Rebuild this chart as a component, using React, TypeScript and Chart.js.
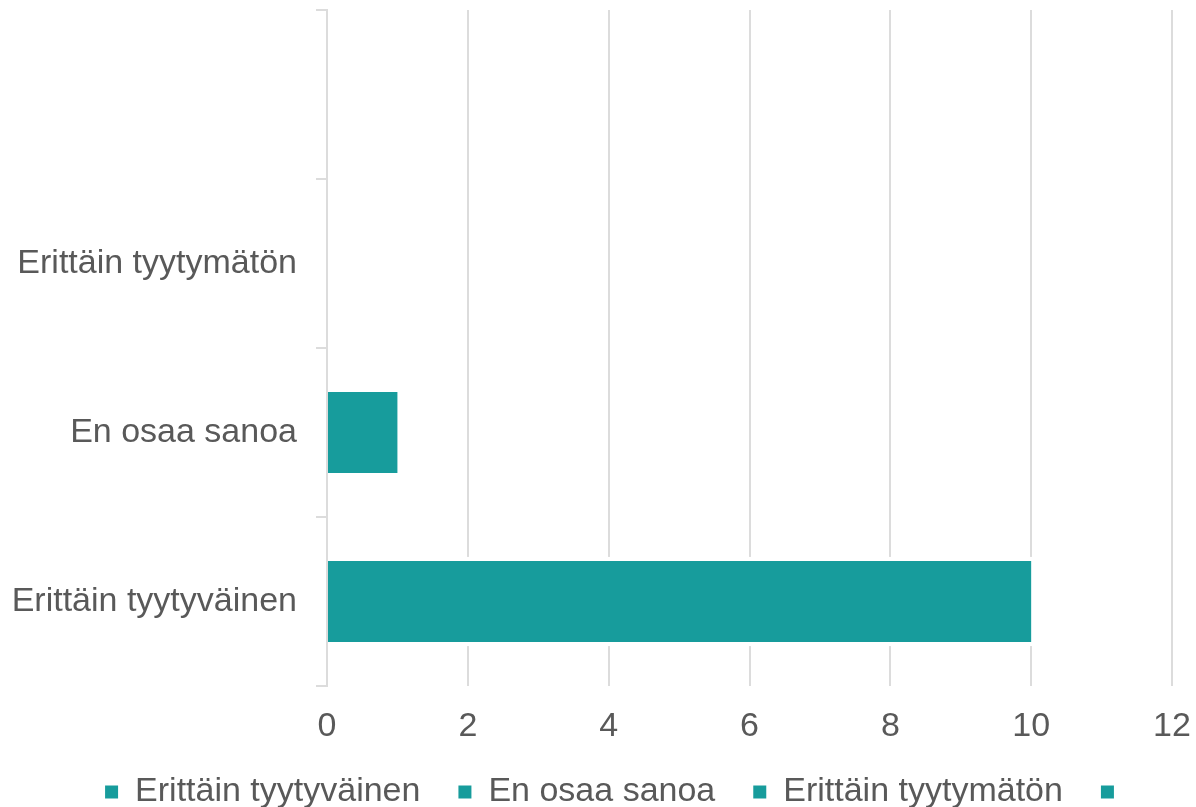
import React, { useEffect, useRef } from "react";
import { Chart, registerables } from "chart.js";

Chart.register(...registerables);

const categories: string[] = ["Erittäin tyytyväinen", "En osaa sanoa", "Erittäin tyytymätön", ""];
const values: number[] = [10, 1, 0, 0];
const xTicks: number[] = [0, 2, 4, 6, 8, 10, 12];

const BAR = "#179c9c";
const TEXT = "#595959";
const GRID = "#dcdcdc";
const FONT = "'Liberation Sans', Arial, Helvetica, sans-serif";
const FS = 34;

const fixups = {
  id: "fixups",
  afterLayout(chart: any) {
    // keep tick labels from being clipped by the axis boxes
    if (chart.scales.x) chart.scales.x.bottom = chart.height;
    if (chart.scales.y) chart.scales.y.left = 0;
  },
  beforeDatasetsDraw(chart: any) {
    const ctx = chart.ctx;
    const meta = chart.getDatasetMeta(0);
    ctx.save();
    ctx.fillStyle = "#ffffff";
    meta.data.forEach((el: any, i: number) => {
      if (!values[i]) return;
      const p = el.getProps(["x", "y", "base", "height"], true);
      const left = Math.min(p.x, p.base) + 2;
      const right = Math.max(p.x, p.base) + 4;
      ctx.fillRect(left, p.y - p.height / 2 - 4, right - left, p.height + 8);
    });
    ctx.restore();
  },
};

export default function App() {
  const ref = useRef<HTMLCanvasElement | null>(null);
  useEffect(() => {
    if (!ref.current) return;
    const chart = new Chart(ref.current, {
      type: "bar",
      data: {
        labels: categories,
        datasets: [
          {
            data: values,
            backgroundColor: BAR,
            borderWidth: 0,
            categoryPercentage: 1,
            barPercentage: 0.48,
          },
        ],
      },
      plugins: [fixups],
      options: {
        indexAxis: "y",
        animation: false,
        responsive: true,
        maintainAspectRatio: false,
        layout: { padding: { top: 10, right: 24, left: 64, bottom: 0 } },
        plugins: {
          tooltip: { enabled: false },
          legend: {
            position: "bottom",
            labels: {
              font: { family: FONT, size: FS },
              color: TEXT,
              boxWidth: 13,
              boxHeight: 13,
              padding: 38,
              generateLabels: () =>
                categories.map((c, i) => ({
                  text: c,
                  fillStyle: BAR,
                  strokeStyle: BAR,
                  lineWidth: 0,
                  hidden: false,
                  index: i,
                  datasetIndex: 0,
                  fontColor: TEXT,
                })),
            },
            onClick: () => {},
          },
        },
        scales: {
          x: {
            min: 0,
            max: 12,
            afterBuildTicks: (scale: any) => {
              scale.ticks = xTicks.map((v) => ({ value: v }));
            },
            afterFit: (scale: any) => {
              scale.height = 51;
              scale.paddingLeft = 0;
              scale.paddingRight = 0;
            },
            ticks: {
              font: { family: FONT, size: FS },
              color: TEXT,
              padding: 20,
              maxRotation: 0,
            },
            grid: {
              color: GRID,
              lineWidth: 2,
              drawTicks: false,
            },
            border: { display: false },
          },
          y: {
            reverse: true,
            offset: true,
            afterFit: (scale: any) => {
              scale.width = 263;
              scale.paddingTop = 0;
              scale.paddingBottom = 0;
            },
            ticks: {
              font: { family: FONT, size: FS },
              color: TEXT,
              padding: 19,
            },
            grid: {
              offset: true,
              drawOnChartArea: false,
              drawTicks: true,
              tickLength: 11,
              color: GRID,
              lineWidth: 2,
            },
            border: { display: true, color: GRID, width: 2 },
          },
        },
      },
    });
    return () => chart.destroy();
  }, []);
  return (
    <div style={{ position: "fixed", left: 0, top: 0, width: 1196, height: 819, background: "#fff" }}>
      <canvas ref={ref} />
    </div>
  );
}
